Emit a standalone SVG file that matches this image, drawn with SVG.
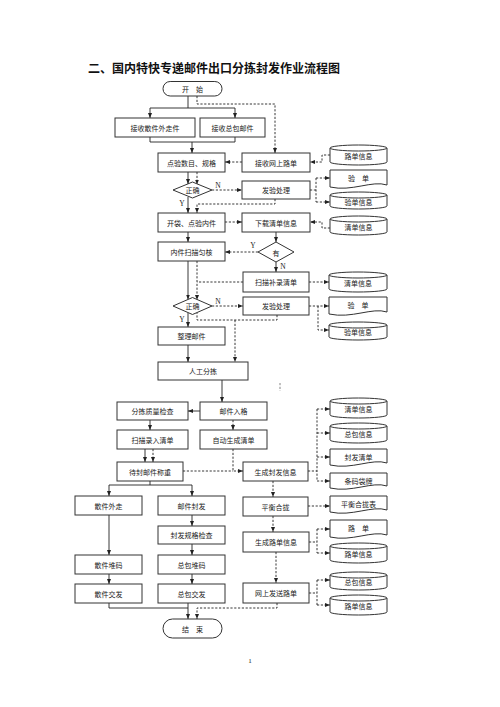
<svg xmlns="http://www.w3.org/2000/svg" width="500" height="707" viewBox="0 0 500 707">
<style>
.b{fill:#fff;stroke:#333;stroke-width:1}
.t{font-family:"Noto Sans CJK SC","Noto Sans CJK JP",sans-serif;font-size:7px;fill:#222;text-anchor:middle;dominant-baseline:central}
.yn{font-family:"Liberation Serif",serif;font-size:7.5px;fill:#222;text-anchor:middle;dominant-baseline:central}
.s{stroke:#222;fill:none;stroke-width:0.9}
.d{stroke:#222;fill:none;stroke-width:0.9;stroke-dasharray:2.2 1.6}
.a{marker-end:url(#ah)}
</style>
<defs>
<marker id="ah" viewBox="0 0 10 10" refX="10" refY="5" markerWidth="5" markerHeight="5" orient="auto" markerUnits="userSpaceOnUse"><path d="M0,1 L10,5 L0,9 Z" fill="#222"/></marker>
</defs>
<rect width="500" height="707" fill="#fff"/>
<text x="88" y="72.5" style="font-family:'Noto Sans CJK SC',sans-serif;font-size:12px;font-weight:bold;fill:#111">二、国内特快专递邮件出口分拣封发作业流程图</text>

<g id="connectors">
<path class="s" d="M188,96 V108 M150,108 H235"/>
<path class="s a" d="M150,108 V118"/>
<path class="s a" d="M235,108 V118"/>
<path class="d a" d="M197,96 V104 H275 V153"/>
<path class="s" d="M150,137 V142 H235 V137"/>
<path class="s a" d="M192,142 V153"/>
<path class="d a" d="M242,162 H225"/>
<path class="d a" d="M330,155 H322 V162 H310"/>
<path class="s a" d="M188,172 V184"/>
<path class="d a" d="M197,172 V184.5"/>
<path class="d a" d="M212,190 H242"/>
<path class="s a" d="M188,197 V213"/>
<path class="d a" d="M275,199 V204 H197 V213"/>
<path class="d" d="M310,190 H316 M316,178 V202"/>
<path class="d a" d="M316,178 H330"/>
<path class="d a" d="M316,202 H330"/>
<path class="d a" d="M225,222 H242"/>
<path class="d a" d="M330,228 H322 V222 H310"/>
<path class="s a" d="M188,232 V242"/>
<path class="s a" d="M276,232 V242"/>
<path class="d a" d="M258,252 H225"/>
<path class="s a" d="M276,262 V272"/>
<path class="d a" d="M309,282 H329"/>
<path class="d" d="M243,282 H197"/>
<path class="s a" d="M188,261 V299.5"/>
<path class="d a" d="M197,261 V300"/>
<path class="d a" d="M212,306 H243"/>
<path class="d a" d="M309,306 H329"/>
<path class="d a" d="M318,306 V330 H329"/>
<path class="s a" d="M188,313 V327"/>
<path class="d" d="M277,315 V320 H197 V313"/>
<path class="d a" d="M235,320 V362"/>
<path class="s a" d="M188,345 V362"/>
<path class="d" d="M280,383 V391" style="stroke:#777"/>
<path class="s a" d="M222,380 V402"/>
<path class="s a" d="M200,411 H188"/>
<path class="s a" d="M150,420 V430"/>
<path class="d a" d="M233,420 V430"/>
<path class="s a" d="M145,449 V462"/>
<path class="d a" d="M153,449 V462"/>
<path class="d a" d="M233,449 V471 H243"/>
<path class="d" d="M183,471 H233"/>
<path class="d" d="M308,471 H317 M317,409 V481"/>
<path class="d a" d="M317,409 H330"/>
<path class="d a" d="M317,433 H330"/>
<path class="d a" d="M317,457 H330"/>
<path class="d a" d="M317,481 H330"/>
<path class="d a" d="M273,481 V497"/>
<path class="d a" d="M308,506 H330"/>
<path class="d a" d="M273,516 V532"/>
<path class="d" d="M309,542 H317 M317,529 V553"/>
<path class="d a" d="M317,529 H330"/>
<path class="d a" d="M317,553 H330"/>
<path class="d a" d="M276,552 V583"/>
<path class="d" d="M309,593 H317 M317,580 V605"/>
<path class="d a" d="M317,580 H330"/>
<path class="d a" d="M317,605 H330"/>
<path class="d a" d="M277,603 V608 H197 V619"/>
<path class="s" d="M150,481 V485 M109,485 H192"/>
<path class="s a" d="M109,485 V496"/>
<path class="s a" d="M192,485 V496"/>
<path class="s a" d="M109,515 V555"/>
<path class="s a" d="M192,515 V526"/>
<path class="s a" d="M192,544 V555"/>
<path class="s a" d="M109,574 V584"/>
<path class="s a" d="M192,574 V584"/>
<path class="s" d="M109,603 V608 H188"/>
<path class="s a" d="M188,603 V619"/>
</g>

<g id="start"><rect class="b" x="163" y="81.5" width="59" height="14.5" rx="7.2"/><text class="t" x="192.5" y="88.8">开　始</text></g>
<g id="n1"><rect class="b" x="115" y="118" width="80" height="19"/><text class="t" x="155" y="127.5">接收散件外走件</text></g>
<g id="n2"><rect class="b" x="200" y="118" width="65" height="19"/><text class="t" x="232.5" y="127.5">接收总包邮件</text></g>
<g id="n3"><rect class="b" x="158" y="153" width="67" height="19"/><text class="t" x="191.5" y="162.5">点验数目、规格</text></g>
<g id="n4"><rect class="b" x="242" y="153" width="68" height="19"/><text class="t" x="276" y="162.5">接收网上路单</text></g>
<g id="c1"><path class="b" d="M330,148 A28.5,3 0 0 1 387,148 V162 A28.5,3 0 0 1 330,162 Z M330,148 A28.5,3 0 0 0 387,148"/><text class="t" x="358.5" y="156">路单信息</text></g>
<g id="d1"><polygon class="b" points="173,190 192.5,182 212,190 192.5,198"/><text class="t" x="192.5" y="190">正确</text><text class="yn" x="218" y="185">N</text><text class="yn" x="182" y="203">Y</text></g>
<g id="n5"><rect class="b" x="242" y="181" width="68" height="18"/><text class="t" x="276" y="190">发验处理</text></g>
<g id="doc1"><path class="b" d="M330,170 H387 V185 C372,180 352,192 330,187 Z"/><text class="t" x="358.5" y="178">验　单</text></g>
<g id="c2"><path class="b" d="M330,195 A28.5,3 0 0 1 387,195 V206 A28.5,3 0 0 1 330,206 Z M330,195 A28.5,3 0 0 0 387,195"/><text class="t" x="358.5" y="201.5">验单信息</text></g>
<g id="n6"><rect class="b" x="158" y="213" width="67" height="19"/><text class="t" x="191.5" y="222.5">开袋、点验内件</text></g>
<g id="n7"><rect class="b" x="242" y="213" width="68" height="19"/><text class="t" x="276" y="222.5">下载清单信息</text></g>
<g id="c3"><path class="b" d="M330,219 A28.5,3 0 0 1 387,219 V232 A28.5,3 0 0 1 330,232 Z M330,219 A28.5,3 0 0 0 387,219"/><text class="t" x="358.5" y="226.5">清单信息</text></g>
<g id="n8"><rect class="b" x="158" y="242" width="67" height="19"/><text class="t" x="191.5" y="251.5">内件扫描匀核</text></g>
<g id="d2"><polygon class="b" points="258,252 276,242 294,252 276,262"/><text class="t" x="276" y="252.5">有</text><text class="yn" x="253" y="245">Y</text><text class="yn" x="283" y="266">N</text></g>
<g id="n9"><rect class="b" x="243" y="272" width="66" height="20"/><text class="t" x="276" y="282">扫描补录清单</text></g>
<g id="c4"><path class="b" d="M329,275 A29,3 0 0 1 387,275 V289 A29,3 0 0 1 329,289 Z M329,275 A29,3 0 0 0 387,275"/><text class="t" x="358" y="283">清单信息</text></g>
<g id="d3"><polygon class="b" points="173,306 192.5,297.5 212,306 192.5,314.5"/><text class="t" x="192.5" y="306">正确</text><text class="yn" x="218" y="301">N</text><text class="yn" x="182" y="319">Y</text></g>
<g id="n10"><rect class="b" x="243" y="297" width="66" height="18"/><text class="t" x="276" y="306">发验处理</text></g>
<g id="doc2"><path class="b" d="M329,297 H387 V312 C372,307 352,319 329,314 Z"/><text class="t" x="358" y="305">验　单</text></g>
<g id="c5"><path class="b" d="M329,325 A29,3 0 0 1 387,325 V337 A29,3 0 0 1 329,337 Z M329,325 A29,3 0 0 0 387,325"/><text class="t" x="358" y="331.5">验单信息</text></g>
<g id="n11"><rect class="b" x="158" y="327" width="67" height="18"/><text class="t" x="191.5" y="336">整理邮件</text></g>
<g id="n12"><rect class="b" x="158" y="362" width="90" height="18"/><text class="t" x="203" y="371">人工分拣</text></g>
<g id="n13"><rect class="b" x="200" y="402" width="67" height="18"/><text class="t" x="233.5" y="411">邮件入格</text></g>
<g id="n14"><rect class="b" x="117" y="402" width="71" height="18"/><text class="t" x="152.5" y="411">分拣质量检查</text></g>
<g id="n15"><rect class="b" x="117" y="430" width="71" height="19"/><text class="t" x="152.5" y="439.5">扫描录入清单</text></g>
<g id="n16"><rect class="b" x="200" y="430" width="67" height="19"/><text class="t" x="233.5" y="439.5">自动生成清单</text></g>
<g id="n17"><rect class="b" x="117" y="462" width="66" height="19"/><text class="t" x="150" y="471.5">待封邮件称重</text></g>
<g id="n18"><rect class="b" x="243" y="462" width="65" height="19"/><text class="t" x="275.5" y="471.5">生成封发信息</text></g>
<g id="c6"><path class="b" d="M330,401 A28.5,3 0 0 1 387,401 V415 A28.5,3 0 0 1 330,415 Z M330,401 A28.5,3 0 0 0 387,401"/><text class="t" x="358.5" y="409">清单信息</text></g>
<g id="c7"><path class="b" d="M330,426 A28.5,3 0 0 1 387,426 V440 A28.5,3 0 0 1 330,440 Z M330,426 A28.5,3 0 0 0 387,426"/><text class="t" x="358.5" y="434">总包信息</text></g>
<g id="doc3"><path class="b" d="M330,449 H387 V463 C372,458 352,470 330,465 Z"/><text class="t" x="358.5" y="456.5">封发清单</text></g>
<g id="doc4"><path class="b" d="M330,473 H387 V486 C372,481 352,493 330,488 Z"/><text class="t" x="358.5" y="480.5">条码袋牌</text></g>
<g id="n19"><rect class="b" x="243" y="497" width="65" height="19"/><text class="t" x="275.5" y="506.5">平衡合拢</text></g>
<g id="doc5"><path class="b" d="M330,496 H387 V510 C372,505 352,517 330,512 Z"/><text class="t" x="358.5" y="504">平衡合拢表</text></g>
<g id="n20"><rect class="b" x="75" y="496" width="67" height="19"/><text class="t" x="108.5" y="505.5">散件外走</text></g>
<g id="n21"><rect class="b" x="158" y="496" width="67" height="19"/><text class="t" x="191.5" y="505.5">邮件封发</text></g>
<g id="n22"><rect class="b" x="158" y="526" width="67" height="18"/><text class="t" x="191.5" y="535">封发规格检查</text></g>
<g id="n23"><rect class="b" x="243" y="532" width="66" height="20"/><text class="t" x="276" y="542">生成路单信息</text></g>
<g id="doc6"><path class="b" d="M330,520 H387 V535 C372,530 352,542 330,537 Z"/><text class="t" x="358.5" y="528">路　单</text></g>
<g id="c8"><path class="b" d="M330,546 A28.5,3 0 0 1 387,546 V560 A28.5,3 0 0 1 330,560 Z M330,546 A28.5,3 0 0 0 387,546"/><text class="t" x="358.5" y="554">路单信息</text></g>
<g id="n24"><rect class="b" x="75" y="555" width="67" height="19"/><text class="t" x="108.5" y="564.5">散件堆码</text></g>
<g id="n25"><rect class="b" x="158" y="555" width="67" height="19"/><text class="t" x="191.5" y="564.5">总包堆码</text></g>
<g id="n26"><rect class="b" x="75" y="584" width="67" height="19"/><text class="t" x="108.5" y="593.5">散件交发</text></g>
<g id="n27"><rect class="b" x="158" y="584" width="67" height="19"/><text class="t" x="191.5" y="593.5">总包交发</text></g>
<g id="n28"><rect class="b" x="243" y="583" width="66" height="20"/><text class="t" x="276" y="593">网上发送路单</text></g>
<g id="c9"><path class="b" d="M330,575 A28.5,3 0 0 1 387,575 V587 A28.5,3 0 0 1 330,587 Z M330,575 A28.5,3 0 0 0 387,575"/><text class="t" x="358.5" y="582">总包信息</text></g>
<g id="c10"><path class="b" d="M330,598 A28.5,3 0 0 1 387,598 V612 A28.5,3 0 0 1 330,612 Z M330,598 A28.5,3 0 0 0 387,598"/><text class="t" x="358.5" y="606">路单信息</text></g>
<g id="end"><rect class="b" x="163" y="619" width="59" height="19" rx="9.5"/><text class="t" x="192.5" y="628.5">结　束</text></g>
<text x="250" y="663" style="font-family:'Liberation Serif',serif;font-size:7px;fill:#222" text-anchor="middle">1</text>
</svg>
